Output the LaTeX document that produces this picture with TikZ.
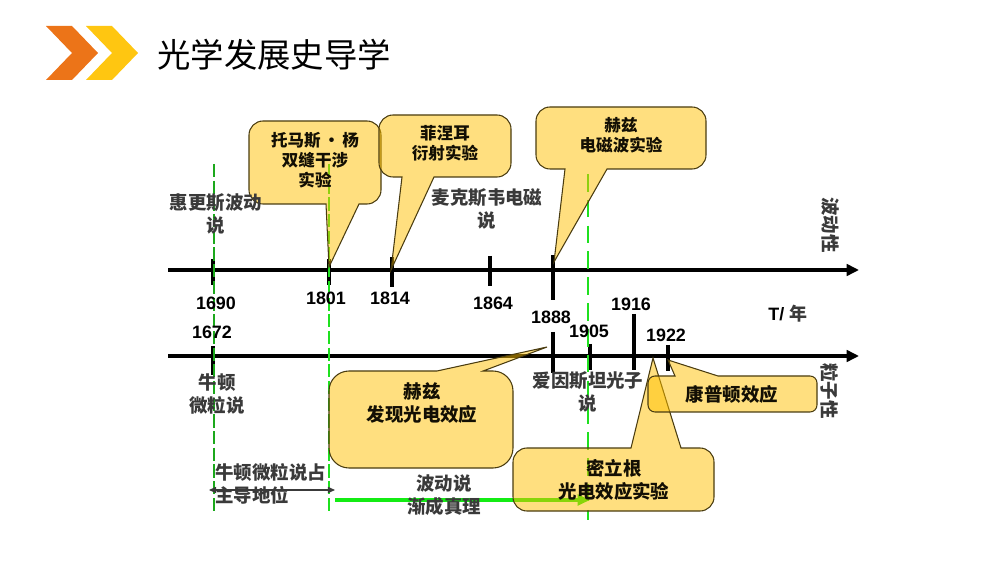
\documentclass[tikz,border=0pt]{standalone}
\usepackage{fontspec}
\setmainfont{Liberation Sans}
\newfontfamily\cjk{Noto Sans CJK SC}
\usetikzlibrary{arrows.meta}
\definecolor{lblgray}{HTML}{3A3A3A}
\definecolor{callfill}{HTML}{FFC000}
\definecolor{calledge}{HTML}{4A3C10}
\definecolor{orangec}{HTML}{EC7418}
\definecolor{yellowc}{HTML}{FFC611}
\definecolor{brightg}{HTML}{1FE01F}
\definecolor{darkg}{HTML}{1CA81C}
\definecolor{arrowg}{HTML}{14EC14}
\tikzset{
  x=0.02cm,y=-0.02cm,
  axisline/.style={line width=1.9pt,-{Triangle[length=7pt,width=6.5pt]}},
  tick/.style={line width=1.9pt},
  callout/.style={fill=callfill,fill opacity=.5,draw=calledge,draw opacity=1,line width=.6pt},
  lab/.style={inner sep=0,align=center,text=lblgray,font=\cjk\bfseries\fontsize{10.5}{13.2}\selectfont},
  calltxt/.style={inner sep=0,align=center,text=black!75!calledge,font=\cjk\bfseries\fontsize{9.4}{11.4}\selectfont},
  calltxtb/.style={inner sep=0,align=center,text=black!75!calledge,font=\cjk\bfseries\fontsize{10.5}{12.8}\selectfont},
  yearlab/.style={inner sep=0,font=\bfseries\fontsize{10.2}{12}\selectfont},
  title/.style={inner sep=0,anchor=west,font=\cjk\fontsize{19}{22}\selectfont},
}
% L T R B r, tail-left x, tip, tail-right x
\newcommand\callbottom[8]{\path[callout] (#6,#4) -- #7 -- (#8,#4) -- ({#3-#5},#4) .. controls ({#3-0.45*#5},#4) and (#3,{#4-0.45*#5}) .. (#3,{#4-#5}) -- (#3,{#2+#5}) .. controls (#3,{#2+0.45*#5}) and ({#3-0.45*#5},#2) .. ({#3-#5},#2) -- ({#1+#5},#2) .. controls ({#1+0.45*#5},#2) and (#1,{#2+0.45*#5}) .. (#1,{#2+#5}) -- (#1,{#4-#5}) .. controls (#1,{#4-0.45*#5}) and ({#1+0.45*#5},#4) .. ({#1+#5},#4) -- cycle;}
\newcommand\calltop[8]{\path[callout] (#6,#2) -- #7 -- (#8,#2) -- ({#3-#5},#2) .. controls ({#3-0.45*#5},#2) and (#3,{#2+0.45*#5}) .. (#3,{#2+#5}) -- (#3,{#4-#5}) .. controls (#3,{#4-0.45*#5}) and ({#3-0.45*#5},#4) .. ({#3-#5},#4) -- ({#1+#5},#4) .. controls ({#1+0.45*#5},#4) and (#1,{#4-0.45*#5}) .. (#1,{#4-#5}) -- (#1,{#2+#5}) .. controls (#1,{#2+0.45*#5}) and ({#1+0.45*#5},#2) .. ({#1+#5},#2) -- cycle;}
\begin{document}
\begin{tikzpicture}
\useasboundingbox (0,0) rectangle (1000,563);
% header chevrons
\fill[orangec] (46,26) -- (72,26) -- (98,53) -- (72,80) -- (46,80) -- (72,53) -- cycle;
\fill[yellowc] (86,26) -- (112,26) -- (138,53) -- (112,80) -- (86,80) -- (112,53) -- cycle;
\node[title] (head) at (157,55) {光学发展史导学};

% axes
\coordinate (a1s) at (168,270); \coordinate (a1e) at (859,270);
\coordinate (a2s) at (168,356); \coordinate (a2e) at (859,356);
\draw[axisline] (a1s) -- (a1e);
\draw[axisline] (a2s) -- (a2e);
% ticks
\foreach \n/\x/\ya/\yb in {t1/213/259/285,t2/329/259/285,t3/392/257/287,t4/490/256/286,t5/553/255/300,
  b1/213/346/375,b2/553/332/373,b3/590/344/370,b4/634/314/370,b5/668/345/371}{
  \coordinate (\n a) at (\x,\ya); \coordinate (\n b) at (\x,\yb);
  \draw[tick] (\n a) -- (\n b);
}
% guides
\coordinate (g1a) at (214,164); \coordinate (g1b) at (214,511);
\coordinate (g2a) at (329,164); \coordinate (g2b) at (329,511);
\coordinate (g3a) at (588,174); \coordinate (g3b) at (588,520);
\draw[darkg,line width=.7pt,dash pattern=on 7.5pt off 2pt] (g1a) -- (g1b);
\draw[brightg,line width=.7pt,dash pattern=on 7.5pt off 2pt] (g2a) -- (g2b);
\draw[brightg,line width=1.4pt,dash pattern=on 10pt off 4.7pt] (g3a) -- (g3b);
% arrows
\coordinate (d1) at (209,490); \coordinate (d2) at (335,490);
\draw[lblgray,line width=.6pt,{Triangle[length=4pt,width=3.5pt]}-{Triangle[length=4pt,width=3.5pt]}] (d1) -- (d2);
\coordinate (ga) at (335,500); \coordinate (gb) at (590,500);
\draw[arrowg,line width=1.9pt,-{Triangle[length=7pt,width=6pt]}] (ga) -- (gb);

% callouts
\callbottom{249}{121}{381}{204}{14}{326}{(329,267)}{359}
\callbottom{379}{115}{511}{177}{14}{402}{(391,270)}{434}
\callbottom{536}{107}{706}{169}{14}{565}{(554,262)}{607}
\calltop{329}{371}{513}{468}{20}{437}{(547,347)}{483}
\calltop{513}{448}{714}{511}{14}{631}{(653,358)}{681}
\calltop{648}{376}{817}{412}{7}{675}{(668,360)}{718}

% callout texts
\node[calltxt] (young) at (315,160) {托马斯{\kern1.5pt}·{\kern1.5pt}杨\\双缝干涉\\实验};
\node[calltxt] (fresnel) at (445,143) {菲涅耳\\衍射实验};
\node[calltxt] (hertza) at (621,135) {赫兹\\电磁波实验};
\node[calltxtb] (hertzb) at (422,403) {赫兹\\发现光电效应};
\node[calltxtb] (milli) at (614,480) {密立根\\光电效应实验};
\node[calltxtb] (compton) at (732,394) {康普顿效应};

% labels
\node[lab] (huy) at (216,214) {惠更斯波动\\说};
\node[lab] (max) at (487,209) {麦克斯韦电磁\\说};
\node[lab] (newt) at (217,394) {牛顿\\微粒说};
\node[lab] (ein) at (588,392) {爱因斯坦光子\\说};
\node[lab,align=left,anchor=west] (dom) at (215,484) {牛顿微粒说占\\主导地位};
\node[lab] (wave) at (444,495) {波动说\\渐成真理};
\node[lab,rotate=-90] (wav) at (830,225) {波动性};
\node[lab,rotate=-90] (par) at (830,391) {粒子性};
\node[yearlab,anchor=west] (tyr) at (768,314) {T/ {\cjk\color{lblgray}年}};

% years
\node[yearlab] (y1690) at (216,303) {1690};
\node[yearlab] (y1801) at (326,298) {1801};
\node[yearlab] (y1814) at (390,298) {1814};
\node[yearlab] (y1864) at (493,303) {1864};
\node[yearlab] (y1888) at (551,317) {1888};
\node[yearlab] (y1905) at (589,331) {1905};
\node[yearlab] (y1916) at (631,304) {1916};
\node[yearlab] (y1922) at (666,335) {1922};
\node[yearlab] (y1672) at (212,332) {1672};
\end{tikzpicture}
\end{document}
